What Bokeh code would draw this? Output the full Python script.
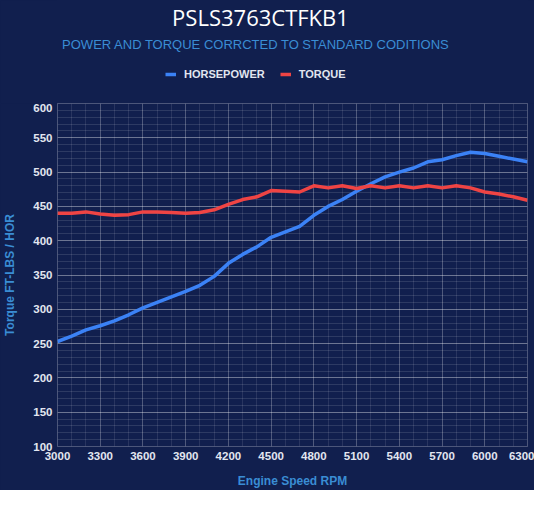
from bokeh.plotting import figure
from bokeh.layouts import column
from bokeh.models import Range1d, FixedTicker, Legend, LegendItem, Label
from bokeh.embed import file_html
from bokeh.resources import INLINE

rpm = [3000, 3100, 3200, 3300, 3400, 3500, 3600, 3700, 3800, 3900,
       4000, 4100, 4200, 4300, 4400, 4500, 4600, 4700, 4800, 4900,
       5000, 5100, 5200, 5300, 5400, 5500, 5600, 5700, 5800, 5900,
       6000, 6100, 6200, 6300]
horsepower = [253, 261, 270, 276, 283, 292, 302, 310, 318, 326,
              335, 348, 367, 380, 391, 405, 413, 421, 437, 450,
              460, 472, 483, 493, 500, 506, 515, 518, 524, 529,
              527, 523, 519, 515]
torque = [440, 440, 442, 439, 437, 438, 442, 442, 441, 440,
          441, 445, 453, 460, 464, 473, 472, 471, 480, 477,
          480, 476, 480, 477, 480, 477, 480, 477, 480, 477,
          471, 468, 464, 459]

x_ticks = [3000, 3300, 3600, 3900, 4200, 4500, 4800, 5100, 5400, 5700, 6000, 6300]
y_ticks = [100, 150, 200, 250, 300, 350, 400, 450, 500, 550, 600]
series_names = ["HORSEPOWER", "TORQUE"]

title_text = "PSLS3763CTFKB1"
subtitle_text = "POWER AND TORQUE CORRCTED TO STANDARD CODITIONS"
x_label = "Engine Speed RPM"
y_label = "Torque FT-LBS / HOR"

BG = "#111f4e"
BLUE = "#3b82f6"
RED = "#ef4444"
LABEL_BLUE = "#3a8dd4"
TICK_COL = "#e2e6f0"
FONT = "Liberation Sans"
W = 534

# ---------- header: title, subtitle, legend ----------
head = figure(width=W, height=103, output_backend="svg", toolbar_location=None,
              x_range=Range1d(0, 1), y_range=Range1d(0, 1),
              x_axis_location=None, y_axis_location=None,
              min_border=0, background_fill_color=BG, border_fill_color=BG)
head.title = None
head.outline_line_color = BG
head.outline_line_width = 3
head.grid.visible = False

head.add_layout(Label(x=203, y=87, x_units="screen", y_units="screen", text=title_text,
                      text_align="center", text_baseline="middle", text_color="white",
                      text_font="Open Sans", text_font_size="22px"))
head.add_layout(Label(x=198.5, y=59, x_units="screen", y_units="screen", text=subtitle_text,
                      text_align="center", text_baseline="middle", text_color=LABEL_BLUE,
                      text_font=FONT, text_font_size="13px"))

# legend keys: same series, outside the header's (empty) view
hp_key = head.line(rpm, horsepower, line_color=BLUE, line_width=3.5)
tq_key = head.line(rpm, torque, line_color=RED, line_width=3.5)
legend = Legend(items=[LegendItem(label=series_names[0], renderers=[hp_key]),
                       LegendItem(label=series_names[1], renderers=[tq_key])],
                orientation="horizontal", location=(108, 19),
                padding=0, margin=0, spacing=15, label_standoff=8,
                glyph_width=11, glyph_height=20, label_height=20,
                background_fill_alpha=0, border_line_alpha=0,
                label_text_color=TICK_COL, label_text_font=FONT,
                label_text_font_style="bold", label_text_font_size="11px")
head.add_layout(legend)

# ---------- main chart ----------
p = figure(width=W, height=387, output_backend="svg", toolbar_location=None,
           x_range=Range1d(3000, 6300), y_range=Range1d(100, 600),
           min_border_left=57, min_border_right=7, min_border_top=0, min_border_bottom=44,
           background_fill_color=BG, border_fill_color=BG)
p.title = None
p.outline_line_color = "white"
p.outline_line_alpha = 0.25

p.xaxis.ticker = FixedTicker(ticks=x_ticks, minor_ticks=list(range(3000, 6301, 100)))
p.yaxis.ticker = FixedTicker(ticks=y_ticks, minor_ticks=list(range(100, 601, 10)))

for ax in (p.xaxis, p.yaxis):
    ax.axis_line_color = None
    ax.major_tick_line_color = None
    ax.minor_tick_line_color = None
    ax.major_tick_out = 0
    ax.major_tick_in = 0
    ax.minor_tick_out = 0
    ax.minor_tick_in = 0
    ax.major_label_text_color = TICK_COL
    ax.major_label_text_font = FONT
    ax.major_label_text_font_style = "bold"
    ax.major_label_text_font_size = "11.5px"
    ax.major_label_standoff = 5
    ax.axis_label_text_color = LABEL_BLUE
    ax.axis_label_text_font = FONT
    ax.axis_label_text_font_style = "bold"
    ax.axis_label_text_font_size = "12px"

p.xaxis.axis_label = x_label
p.xaxis.axis_label_standoff = 11
p.yaxis.axis_label = y_label
p.yaxis.axis_label_standoff = 13

p.xgrid.grid_line_color = "white"
p.xgrid.grid_line_alpha = 0.18
p.xgrid.minor_grid_line_color = "white"
p.xgrid.minor_grid_line_alpha = 0.1
p.ygrid.grid_line_color = "white"
p.ygrid.grid_line_alpha = 0.3
p.ygrid.minor_grid_line_color = "white"
p.ygrid.minor_grid_line_alpha = 0.12

p.line(rpm, horsepower, line_color=BLUE, line_width=3.5, line_join="round")
p.line(rpm, torque, line_color=RED, line_width=3.5, line_join="round")

layout = column(head, p, spacing=0, styles={"background-color": BG})
open("out.html", "w").write(file_html(layout, INLINE))
